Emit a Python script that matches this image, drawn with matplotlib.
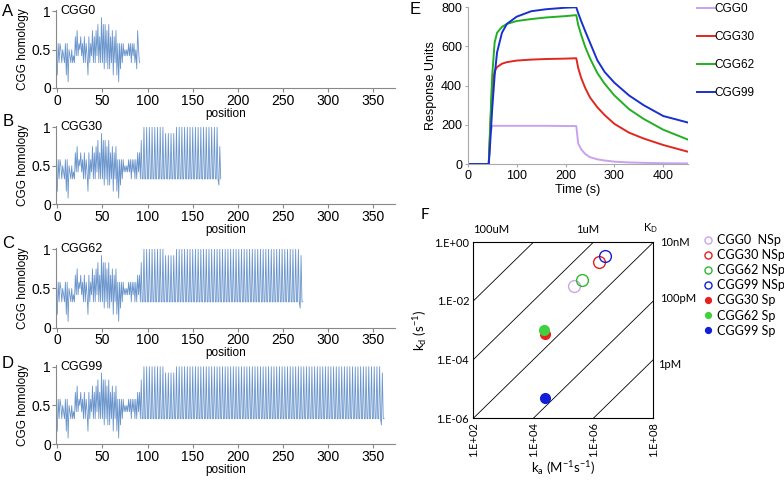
import numpy as np
import matplotlib
matplotlib.use("Agg")
import matplotlib.pyplot as plt

plt.rcParams['font.family'] = ['Liberation Sans', 'DejaVu Sans']

# ---- data: CGG homology traces (A-D) ----
# shared 5' flank, positions 0..86
prefix = [0.17, 0.58, 0.33, 0.58, 0.5, 0.33, 0.5, 0.42, 0.33, 0.58,
          0.17, 0.58, 0.08, 0.5, 0.42, 0.33, 0.5, 0.33, 0.42, 0.33,
          0.67, 0.42, 0.75, 0.42, 0.58, 0.5, 0.67, 0.42, 0.58, 0.33,
          0.67, 0.33, 0.58, 0.42, 0.17, 0.67, 0.33, 0.58, 0.42, 0.75,
          0.33, 0.67, 0.33, 0.75, 0.42, 0.83, 0.33, 0.67, 0.33, 0.92,
          0.33, 0.83, 0.25, 0.83, 0.33, 0.75, 0.25, 0.83, 0.25, 0.67,
          0.33, 0.75, 0.17, 0.67, 0.33, 0.75, 0.17, 0.58, 0.08, 0.58,
          0.25, 0.58, 0.33, 0.58, 0.42, 0.5, 0.42, 0.5, 0.42, 0.58,
          0.42, 0.58, 0.33, 0.58, 0.42, 0.58, 0.33]
tail_cgg0 = [0.5, 0.25, 0.75, 0.5, 0.33]
lead_in = [0.58, 0.33, 0.67, 0.42, 0.67, 0.33, 0.83, 0.33, 0.33]
pure_unit = [1.0, 0.33, 0.33]
agg_unit = [0.92, 0.33, 0.33]
end_cgg30 = [1.0, 0.33, 0.25, 0.75, 0.33]
end_long = [1.0, 0.33, 0.25, 0.92, 0.33, 0.33]
# repeat units after the AGG interruption
n_after = {'CGG30': 15, 'CGG62': 45, 'CGG99': 75}

seqs = {
    'CGG0': prefix + tail_cgg0,
    'CGG30': prefix + lead_in + pure_unit * 8 + agg_unit * 4 + pure_unit * n_after['CGG30'] + end_cgg30,
    'CGG62': prefix + lead_in + pure_unit * 8 + agg_unit * 4 + pure_unit * n_after['CGG62'] + end_long,
    'CGG99': prefix + lead_in + pure_unit * 8 + agg_unit * 4 + pure_unit * n_after['CGG99'] + end_long,
}

# ---- data: SPR sensorgrams (E) ----
t = [0, 43, 46, 50, 55, 60, 70, 80, 100, 130, 160, 200, 222,
     226, 232, 240, 250, 265, 280, 300, 330, 360, 400, 450]
ru = {
    'CGG0': [0, 0, 150, 195, 195, 195, 195, 195, 195, 195, 195, 194, 194,
             105, 75, 52, 35, 24, 18, 12, 8, 6, 4, 3],
    'CGG30': [0, 0, 180, 400, 475, 495, 512, 520, 528, 533, 536, 538, 540,
              490, 440, 390, 340, 290, 250, 205, 160, 130, 97, 63],
    'CGG62': [0, 0, 200, 450, 620, 670, 700, 715, 730, 740, 748, 755, 760,
              710, 660, 600, 540, 465, 410, 350, 280, 230, 175, 125],
    'CGG99': [0, 0, 110, 280, 450, 570, 670, 715, 752, 780, 790, 798, 800,
              770, 730, 680, 620, 530, 470, 415, 350, 300, 245, 212],
}
spr_colors = {'CGG0': '#c8a2f0', 'CGG30': '#e0281e', 'CGG62': '#22b022', 'CGG99': '#1a2fd0'}

# ---- data: kinetic map (F) ----
kd_lines = [1e-4, 1e-6, 1e-8, 1e-10, 1e-12]
f_labels = ['CGG0  NSp', 'CGG30 NSp', 'CGG62 NSp', 'CGG99 NSp', 'CGG30 Sp', 'CGG62 Sp', 'CGG99 Sp']
f_ka = [2.2e5, 1.6e6, 4.3e5, 2.5e6, 2.5e4, 2.25e4, 2.5e4]
f_kd = [0.032, 0.21, 0.05, 0.33, 7.2e-4, 1.0e-3, 5.1e-6]
f_colors = ['#c8a8e8', '#e02020', '#30b830', '#1020d8', '#e82020', '#40d040', '#1020d8']
f_filled = [False, False, False, False, True, True, True]

fig = plt.figure(figsize=(7.84, 4.8), dpi=100)

# panels A-D
rows = [('A', 'CGG0', 0.8167, 0.1627, 12),
        ('B', 'CGG30', 0.5744, 0.1636, 122),
        ('C', 'CGG62', 0.3173, 0.1666, 244),
        ('D', 'CGG99', 0.0744, 0.1649, 364)]
for letter, name, bot, h, ly in rows:
    ax = fig.add_axes([0.0719, bot, 0.4319, h])
    y = seqs[name]
    ax.plot(range(len(y)), y, color='#6a95cc', lw=0.6)
    ax.set_xlim(-1, 374)
    ax.set_ylim(0, 1.02)
    ax.set_xticks([0, 50, 100, 150, 200, 250, 300, 350])
    ax.set_yticks([0, 0.5, 1])
    ax.set_yticklabels(['0', '0.5', '1'])
    for s in ['top', 'right']:
        ax.spines[s].set_visible(False)
    for s in ['left', 'bottom']:
        ax.spines[s].set_color('#888888')
    ax.tick_params(colors='#888888', labelcolor='black', labelsize=10, length=3, pad=1)
    ax.set_xlabel('position', fontsize=8.5, labelpad=0)
    ax.set_ylabel('CGG homology', fontsize=8.5, labelpad=2)
    ax.text(3, 1.0, name, fontsize=9, va='center', ha='left')
    fig.text(8 / 784, 1 - ly / 480, letter, fontsize=12, ha='center', va='center')

# panel E
ax = fig.add_axes([0.5966, 0.6583, 0.2806, 0.3265])
for name in ['CGG0', 'CGG30', 'CGG62', 'CGG99']:
    ax.plot(t, ru[name], color=spr_colors[name], lw=1.4, label=name)
ax.set_xlim(0, 450)
ax.set_ylim(0, 800)
ax.set_xticks([0, 100, 200, 300, 400])
ax.set_yticks([0, 200, 400, 600, 800])
for s in ['top', 'right']:
    ax.spines[s].set_visible(False)
for s in ['left', 'bottom']:
    ax.spines[s].set_color('#aaaaaa')
ax.tick_params(colors='#aaaaaa', labelcolor='black', labelsize=9, length=2, pad=2)
ax.set_xlabel('Time (s)', fontsize=9, labelpad=2)
ax.set_ylabel('Response Units', fontsize=9, labelpad=3)
ax.legend(loc='upper left', bbox_to_anchor=(697 / 784, 1 - 3 / 480), bbox_transform=fig.transFigure,
          frameon=False, fontsize=8.5, handlelength=1.5, handletextpad=0.0, labelspacing=1.35,
          borderaxespad=0, borderpad=0)
fig.text(415 / 784, 1 - 9 / 480, 'E', fontsize=12, ha='center', va='center')

# panel F
fam = ['Lato', 'DejaVu Sans']
ax = fig.add_axes([0.6037, 0.1285, 0.2296, 0.3667])
ka_span = np.array([1e2, 1e8])
for k in kd_lines:
    ax.plot(ka_span, k * ka_span, color='black', lw=0.6)
for lab, xa, yd, c, fill in zip(f_labels, f_ka, f_kd, f_colors, f_filled):
    if fill:
        ax.plot(xa, yd, 'o', ms=7, color=c, mec=c, label=lab)
    else:
        ax.plot(xa, yd, 'o', ms=8.5, mfc='none', mec=c, mew=1.0, label=lab)
ax.set_xscale('log')
ax.set_yscale('log')
ax.set_xlim(1e2, 1e8)
ax.set_ylim(1e-6, 1e0)
ax.minorticks_off()
ax.set_xticks([1e2, 1e4, 1e6, 1e8])
ax.set_xticklabels(['1.E+02', '1.E+04', '1.E+06', '1.E+08'], rotation=90, family=fam)
ax.set_yticks([1e-6, 1e-4, 1e-2, 1e0])
ax.set_yticklabels(['1.E-06', '1.E-04', '1.E-02', '1.E+00'], family=fam)
ax.tick_params(length=0, labelsize=8, pad=3)
for s in ax.spines.values():
    s.set_linewidth(0.8)
ax.set_xlabel('k$_\\mathregular{a}$ (M$^\\mathregular{-1}$s$^\\mathregular{-1}$)', fontsize=9.5, family=fam, labelpad=1)
ax.set_ylabel('k$_\\mathregular{d}$ (s$^\\mathregular{-1}$)', fontsize=9.5, family=fam, labelpad=4)
ax.text(0.0, 1.075, '100uM', transform=ax.transAxes, fontsize=8, family=fam, ha='left', va='center')
ax.text(0.637, 1.075, '1uM', transform=ax.transAxes, fontsize=8, family=fam, ha='center', va='center')
ax.text(0.945, 1.08, 'K$_\\mathregular{D}$', transform=ax.transAxes, fontsize=8, family=fam, ha='left', va='center')
ax.text(1.035, 1.0, '10nM', transform=ax.transAxes, fontsize=8, family=fam, ha='left', va='center')
ax.text(1.035, 0.678, '100pM', transform=ax.transAxes, fontsize=8, family=fam, ha='left', va='center')
ax.text(1.025, 0.303, '1pM', transform=ax.transAxes, fontsize=8, family=fam, ha='left', va='center')
ax.legend(loc='upper left', bbox_to_anchor=(703 / 784, 1 - 234 / 480), bbox_transform=fig.transFigure,
          frameon=False, prop={'family': fam, 'size': 9}, handlelength=0.8, handletextpad=0.3,
          labelspacing=0.25, borderaxespad=0, borderpad=0, markerscale=0.6)
fig.text(425 / 784, 1 - 215 / 480, 'F', fontsize=11, family=fam, ha='center', va='center')

fig.savefig('out.png', dpi=100)
